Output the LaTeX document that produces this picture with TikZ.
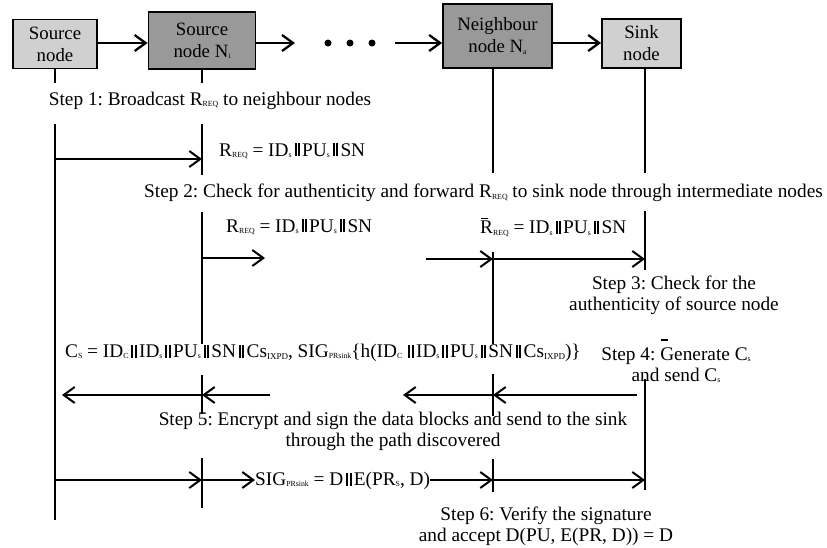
\documentclass[tikz,border=0pt]{standalone}
\usepackage{fontspec}
\setmainfont{Liberation Serif}
\usetikzlibrary{arrows.meta}
\definecolor{lightfill}{HTML}{D0D0D0}
\definecolor{darkfill}{HTML}{999999}
\frenchspacing
\newcommand\sbx[1]{\raisebox{-1.3pt}{\fontsize{7.8}{7.8}\selectfont #1}}
\newcommand\sbxl[1]{\raisebox{-1.5pt}{\fontsize{9}{9}\selectfont #1}}
\newcommand\dbar{\kern2.9pt\rule[-0.3pt]{2pt}{0.68em}\kern1.4pt\rule[-0.3pt]{2pt}{0.68em}\kern2.3pt}
\newcommand\barred[2]{\leavevmode\rlap{\kern0.6pt\rule[#1]{0.36em}{1.3pt}}#2}
\tikzset{
  nodebox/.style={draw=black, line width=1.8pt, inner sep=0pt, align=center,
    font=\fontsize{18.8}{22}\selectfont},
  lightbox/.style={nodebox, fill=lightfill},
  darkbox/.style={nodebox, fill=darkfill},
  dot/.style={circle, fill=black, inner sep=0pt, minimum size=7pt},
  life/.style={line width=1.5pt},
  toparrow/.style={line width=2.3pt, -{Straight Barb[length=11pt,width=16pt,line width=2.3pt]}},
  msg/.style={line width=1.6pt, -{Straight Barb[length=11pt,width=16pt,line width=2pt]}},
  lbl/.style={inner sep=0pt, align=center, font=\fontsize{19.3}{21}\selectfont},
}
\begin{document}
\begin{tikzpicture}[x=1pt,y=-1pt]
\useasboundingbox (0,0) rectangle (827,547);
% nodes
\node[lightbox, minimum width=84pt, minimum height=49pt] (src) at (55,44) {Source\\node};
\node[darkbox, minimum width=107pt, minimum height=57pt] (ni) at (202,40.5) {Source\\node N\sbx{i}};
\node[darkbox, minimum width=109pt, minimum height=64pt] (na) at (497.5,36) {Neighbour\\node N\sbx{a}};
\node[lightbox, minimum width=79pt, minimum height=49pt] (sink) at (641.5,43.5) {Sink\\node};
\node[dot] (d1) at (328,43) {};
\node[dot] (d2) at (350,43) {};
\node[dot] (d3) at (372,43) {};
% top arrows
\coordinate (t) at (0,43);
\coordinate (tn) at (295,43);
\coordinate (tb) at (395,43);
\draw[toparrow] (src.east |- t) -- (ni.west |- t);
\draw[toparrow] (ni.east |- t) -- (tn);
\draw[toparrow] (tb) -- (na.west |- t);
\draw[toparrow] (na.east |- t) -- (sink.west |- t);
% lifeline x positions
\coordinate (lS) at (55,0);
\coordinate (lN) at (202,0);
\coordinate (lA) at (493,0);
\coordinate (lK) at (645,0);
% source lifeline
\coordinate (S0) at (55,83); \coordinate (S1) at (55,124); \coordinate (S2) at (55,520);
\draw[life] (src.south -| lS) -- (S0);
\draw[life] (S1) -- (S2);
% Ni lifeline
\coordinate (N0) at (202,83);
\coordinate (N1) at (202,124); \coordinate (N2) at (202,175);
\coordinate (N3) at (202,212); \coordinate (N4) at (202,344);
\coordinate (N5) at (202,375); \coordinate (N6) at (202,414);
\coordinate (N7) at (202,458); \coordinate (N8) at (202,508);
\draw[life] (ni.south -| lN) -- (N0);
\draw[life] (N1) -- (N2);
\draw[life] (N3) -- (N4);
\draw[life] (N5) -- (N6);
\draw[life] (N7) -- (N8);
% Na lifeline
\coordinate (A0) at (493,173);
\coordinate (A1) at (493,252); \coordinate (A2) at (493,344);
\coordinate (A3) at (493,374); \coordinate (A4) at (493,416);
\coordinate (A5) at (493,459); \coordinate (A6) at (493,492);
\draw[life] (na.south -| lA) -- (A0);
\draw[life] (A1) -- (A2);
\draw[life] (A3) -- (A4);
\draw[life] (A5) -- (A6);
% sink lifeline
\coordinate (K0) at (645,173);
\coordinate (K1) at (645,211); \coordinate (K2) at (645,270);
\coordinate (K3) at (645,379); \coordinate (K4) at (645,490);
\draw[life] (sink.south -| lK) -- (K0);
\draw[life] (K1) -- (K2);
\draw[life] (K3) -- (K4);
% labels
\node[lbl] (st1) at (210,101) {Step 1: Broadcast R\sbx{REQ} to neighbour nodes};
\node[lbl, anchor=west] (f1) at (219,151) {R\sbx{REQ} = ID\sbx{s}\dbar PU\sbx{s}\dbar SN};
\node[lbl] (st2) at (483.5,193) {Step 2: Check for authenticity and forward R\sbx{REQ} to sink node through intermediate nodes};
\node[lbl, anchor=west] (f2) at (226,227) {R\sbx{REQ} = ID\sbx{s}\dbar PU\sbx{s}\dbar SN};
\node[lbl, anchor=west] (f3) at (480,227) {\barred{0.78em}{R}\sbx{REQ} = ID\sbx{s}\dbar PU\sbx{s}\dbar SN};
\node[lbl] (st3) at (674,295) {Step 3: Check for the\\authenticity of source node};
\node[lbl, anchor=west] (f4) at (65,353) {C\sbx{S} = ID\sbx{C}\dbar ID\sbx{s}\dbar PU\sbx{s}\dbar SN\dbar Cs\sbxl{IXPD}, SIG\sbx{PRsink}\{h(ID\sbx{C}\,\dbar ID\sbx{s}\dbar PU\sbx{s}\dbar SN\dbar Cs\sbxl{IXPD})\}};
\node[lbl] (st4) at (676,361) {Step 4: \barred{1.02em}{G}enerate C\sbx{s}\\and send C\sbx{s}};
\node[lbl] (st5) at (393,431) {Step 5: Encrypt and sign the data blocks and send to the sink\\through the path discovered};
\node[lbl, anchor=west] (sig) at (255,481) {SIG\sbx{PRsink} = D\dbar E(PR\sbx{S}, D)};
\node[lbl] (st6) at (546,526) {Step 6: Verify the signature\\and accept D(PU, E(PR, D)) = D};
% messages
\coordinate (m1s) at (55,159); \coordinate (m1e) at (202,159);
\draw[msg] (m1s) -- (m1e);
\coordinate (m2s) at (202,258); \coordinate (m2e) at (265,258);
\draw[msg] (m2s) -- (m2e);
\coordinate (m3s) at (426,259); \coordinate (m3m) at (493,259); \coordinate (m3e) at (645,259);
\draw[msg] (m3s) -- (m3m);
\draw[msg] (m3m) -- (m3e);
\coordinate (m4s) at (637,395); \coordinate (m4a) at (493,395); \coordinate (m4e) at (403,395);
\coordinate (m4b) at (270,395); \coordinate (m4n) at (202,395); \coordinate (m4f) at (62,395);
\draw[msg] (m4s) -- (m4a);
\draw[msg] (m4a) -- (m4e);
\draw[msg] (m4b) -- (m4n);
\draw[msg] (m4n) -- (m4f);
\coordinate (m5s) at (55,480); \coordinate (m5n) at (202,480);
\coordinate (m5a) at (493,480); \coordinate (m5k) at (645,480);
\draw[msg] (m5s) -- (m5n);
\draw[msg] (m5n) -- (sig.west |- m5n);
\draw[msg] (sig.east |- m5n) -- (m5a);
\draw[msg] (m5a) -- (m5k);
\end{tikzpicture}
\end{document}
